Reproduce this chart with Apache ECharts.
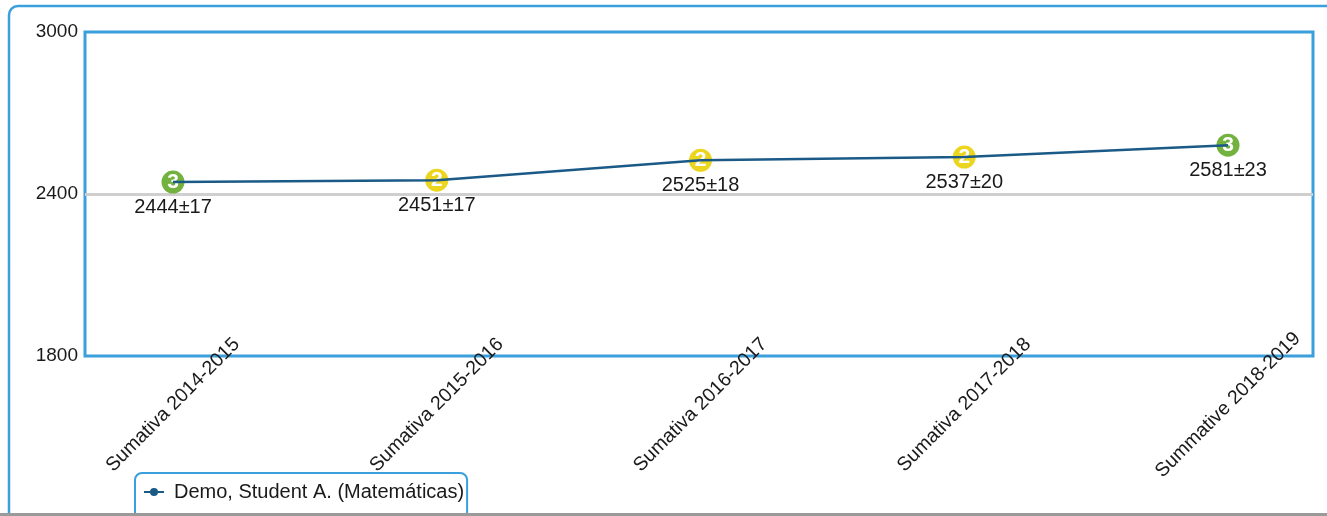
<!DOCTYPE html>
<html>
<head>
<meta charset="utf-8">
<script src="https://cdn.jsdelivr.net/npm/echarts@6/dist/echarts.min.js"></script>
<style>
html,body{margin:0;padding:0;background:#fff;}
#chart{width:1327px;height:516px;}
</style>
</head>
<body>
<div id="chart"></div>
<script>
const categories = ['Sumativa 2014-2015','Sumativa 2015-2016','Sumativa 2016-2017','Sumativa 2017-2018','Summative 2018-2019'];
const scores = [2444, 2451, 2525, 2537, 2581];
const errors = [17, 17, 18, 20, 23];
const levels = [3, 2, 2, 2, 3];
const yTicks = [1800, 2400, 3000];
const seriesName = 'Demo, Student A. (Matemáticas)';

const levelColors = {2: '#ecd51f', 3: '#74b23f'};
const FONT = "'Liberation Sans', Arial, sans-serif";
const BLUE = '#3a9fdb';
const LINE = '#1b5a86';

const chart = echarts.init(document.getElementById('chart'));
chart.setOption({
  backgroundColor: '#fff',
  animation: false,
  textStyle: {fontFamily: FONT},
  graphic: [
    {type: 'rect', z: -10, shape: {x: 9, y: 6, width: 1340, height: 540, r: 9},
     style: {fill: 'none', stroke: BLUE, lineWidth: 2.5}},
    {type: 'rect', z: 100, shape: {x: 0, y: 513, width: 1327, height: 3},
     style: {fill: '#9a9a9a'}}
  ],
  legend: {
    data: [{name: seriesName, itemStyle: {color: LINE, opacity: 1}}],
    left: 135, top: 473,
    padding: [9, 3, 20, 8],
    borderColor: BLUE, borderWidth: 2, borderRadius: 7,
    itemWidth: 20, itemHeight: 10,
    textStyle: {fontSize: 20, color: '#1a1a1a', fontFamily: FONT, padding: [0, 0, 0, 5]}
  },
  grid: [
    {left: 85, right: 14, top: 32, bottom: 160, show: true, borderColor: BLUE, borderWidth: 3, backgroundColor: 'transparent'},
    {left: 173, right: 99, top: 32, bottom: 160}
  ],
  xAxis: [
    {gridIndex: 0, type: 'value', min: 0, max: 1, show: false},
    {gridIndex: 1, type: 'category', data: categories, boundaryGap: false,
     axisLine: {show: false}, axisTick: {show: false}, splitLine: {show: false},
     axisLabel: {rotate: 45, align: 'center', verticalAlign: 'middle', margin: 49,
                 fontSize: 19.5, color: '#1a1a1a', fontFamily: FONT, interval: 0}}
  ],
  yAxis: [
    {gridIndex: 0, type: 'value', min: yTicks[0], max: yTicks[yTicks.length - 1], interval: yTicks[1] - yTicks[0],
     axisLine: {show: false}, axisTick: {show: false},
     axisLabel: {fontSize: 19, color: '#1a1a1a', margin: 7, fontFamily: FONT, formatter: v => String(v)},
     splitLine: {show: true, lineStyle: {color: ['transparent', '#cfcfcf', 'transparent'], width: 3}}},
    {gridIndex: 1, type: 'value', min: yTicks[0], max: yTicks[yTicks.length - 1], show: false, splitLine: {show: false}}
  ],
  series: [
    {
      name: 'levels', type: 'scatter', xAxisIndex: 1, yAxisIndex: 1,
      data: scores.map((v, i) => ({value: v, itemStyle: {color: levelColors[levels[i]]}})),
      symbol: 'circle', symbolSize: 23,
      itemStyle: {opacity: 1},
      label: {show: true, position: 'inside', color: '#fff', fontWeight: 'bold', fontSize: 21, fontFamily: FONT,
              formatter: p => String(levels[p.dataIndex])},
      z: 2
    },
    {
      name: seriesName, type: 'line', xAxisIndex: 1, yAxisIndex: 1,
      data: scores,
      lineStyle: {color: LINE, width: 2.5},
      symbol: 'circle', symbolSize: 22,
      itemStyle: {color: 'rgba(0,0,0,0)'},
      label: {show: true, position: 'bottom', distance: 4, fontSize: 20, color: '#1a1a1a', fontFamily: FONT,
              formatter: p => p.value + '±' + errors[p.dataIndex]},
      z: 3
    }
  ]
});
</script>
</body>
</html>
